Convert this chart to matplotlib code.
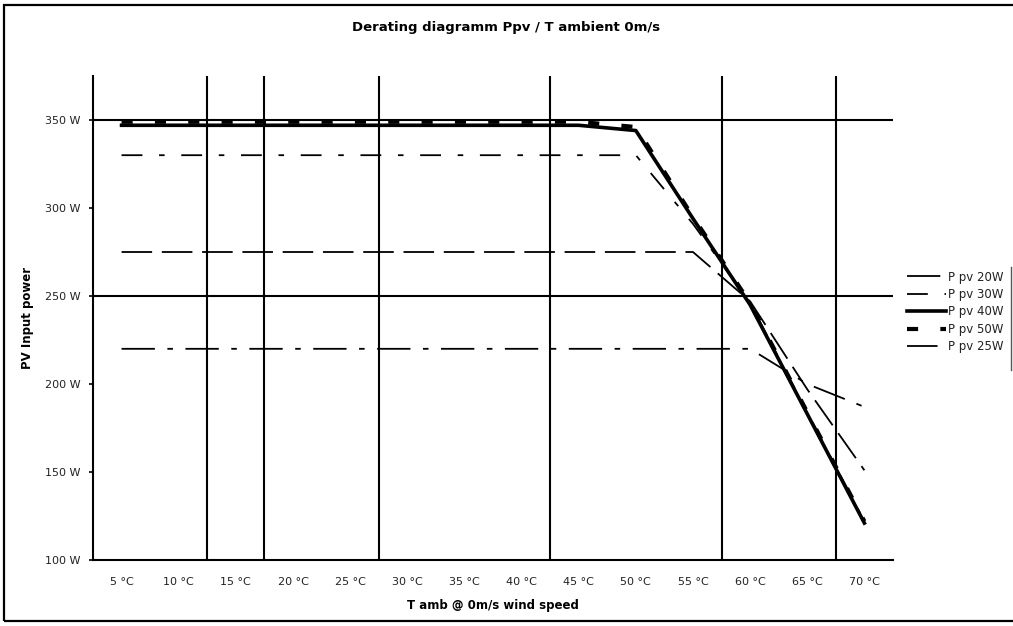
import numpy as np
import matplotlib
matplotlib.use("Agg")
import matplotlib.pyplot as plt
from matplotlib.patches import Rectangle
from matplotlib.lines import Line2D

plt.rcParams['font.family'] = ['DejaVu Sans']
plt.rcParams['lines.scale_dashes'] = False

# data
temps = ["5 °C", "10 °C", "15 °C", "20 °C", "25 °C", "30 °C", "35 °C",
         "40 °C", "45 °C", "50 °C", "55 °C", "60 °C", "65 °C", "70 °C"]
p_pv_20w = [220, 220, 220, 220, 220, 220, 220, 220, 220, 220, 220, 220, 200, 187]
p_pv_30w = [330, 330, 330, 330, 330, 330, 330, 330, 330, 330, 291, 246, 184, 122]
p_pv_40w = [347, 347, 347, 347, 347, 347, 347, 347, 347, 344, 294, 245, 183, 121]
p_pv_50w = [349, 349, 349, 349, 349, 349, 349, 349, 349, 346, 295, 246, 184, 122]
p_pv_25w = [275, 275, 275, 275, 275, 275, 275, 275, 275, 275, 275, 247, 197, 151]

y_ticks = [100, 150, 200, 250, 300, 350]
y_tick_labels = ["100 W", "150 W", "200 W", "250 W", "300 W", "350 W"]
h_lines = [250, 350]
v_lines = [1.5, 2.5, 4.5, 7.5, 10.5, 12.5]   # category boundaries

x = np.arange(len(temps))

fig = plt.figure(figsize=(10.13, 6.26), dpi=100)
ax = fig.add_axes([0.0918, 0.1054, 0.7897, 0.7732])

for v in v_lines:
    ax.axvline(v, color='black', lw=1.5, zorder=1)
for h in h_lines:
    ax.axhline(h, color='black', lw=1.5, zorder=1)

ax.plot(x, p_pv_20w, color='black', lw=1.3, dashes=(24, 9, 4, 9), label="P pv 20W", zorder=3)
ax.plot(x, p_pv_30w, color='black', lw=1.3, dashes=(15, 12, 4, 12), label="P pv 30W", zorder=3)
ax.plot(x, p_pv_50w, color='black', lw=3.0, dashes=(8, 16), label="P pv 50W", zorder=3)
ax.plot(x, p_pv_40w, color='black', lw=2.6, label="P pv 40W", zorder=4)
ax.plot(x, p_pv_25w, color='black', lw=1.3, dashes=(22, 7), label="P pv 25W", zorder=3)

ax.set_xlim(-0.5, len(temps) - 0.5)
ax.set_ylim(100, 375)
ax.set_xticks(x)
ax.set_xticklabels(temps, fontsize=8, color='#222222')
ax.set_yticks(y_ticks)
ax.set_yticklabels(y_tick_labels, fontsize=8, color='#222222')
ax.tick_params(axis='x', length=0, pad=12)
ax.tick_params(axis='y', length=3, width=1.2, pad=6)

for s in ['top', 'right']:
    ax.spines[s].set_visible(False)
for s in ['left', 'bottom']:
    ax.spines[s].set_linewidth(1.5)

ax.set_xlabel("T amb @ 0m/s wind speed", fontsize=8.5, fontweight='bold', labelpad=9)
ax.set_ylabel("PV Input power", fontsize=8.5, fontweight='bold', labelpad=8)
fig.text(0.5, 1 - 27 / 626, "Derating diagramm Ppv / T ambient 0m/s",
         ha='center', va='center', fontsize=9.5, fontweight='bold')

# legend in the order of the original
handles, labels = ax.get_legend_handles_labels()
order = ["P pv 20W", "P pv 30W", "P pv 40W", "P pv 50W", "P pv 25W"]
hs = [handles[labels.index(o)] for o in order]
leg = fig.legend(hs, order, loc='center left', bbox_to_anchor=(907 / 1013, 1 - 312 / 626),
                 frameon=False, fontsize=8.5, handlelength=3.3, handletextpad=0.2,
                 labelspacing=0.38, borderaxespad=0, borderpad=0)
for t in leg.get_texts():
    t.set_color('#222222')
fig.add_artist(Line2D([1011 / 1013, 1011 / 1013], [1 - 267 / 626, 1 - 370 / 626],
                      color='#555555', lw=1))

# chart border
fig.add_artist(Rectangle((4 / 1013, 5 / 626), 1.2, 1 - 10 / 626, transform=fig.transFigure,
                         fill=False, edgecolor='black', lw=1.6))

fig.savefig("out.png", dpi=100)
